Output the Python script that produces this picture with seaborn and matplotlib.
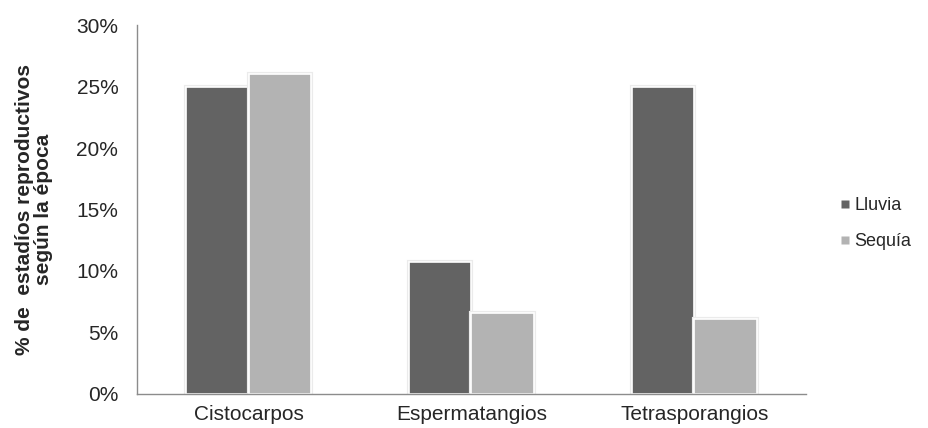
import matplotlib
matplotlib.use("Agg")
import matplotlib.pyplot as plt
import matplotlib.patheffects as pe
import seaborn as sns
import pandas as pd
from matplotlib.ticker import FuncFormatter, FixedLocator
from matplotlib.lines import Line2D

categories = ["Cistocarpos", "Espermatangios", "Tetrasporangios"]
series_names = ["Lluvia", "Sequía"]
lluvia = [25.0, 10.7, 25.0]
sequia = [26.0, 6.6, 6.1]
y_ticks = [0, 5, 10, 15, 20, 25, 30]

colors = {"Lluvia": "#636363", "Sequía": "#b3b3b3"}

df = pd.DataFrame({
    "categoria": categories * 2,
    "epoca": [series_names[0]] * 3 + [series_names[1]] * 3,
    "valor": lluvia + sequia,
})

sns.set_style("white")
plt.rcParams["font.family"] = ["Liberation Sans", "DejaVu Sans"]

fig = plt.figure(figsize=(9.29, 4.28), dpi=100)
ax = fig.add_axes([0.1475, 0.0795, 0.72, 0.862])

sns.barplot(data=df, x="categoria", y="valor", hue="epoca", order=categories,
            hue_order=series_names, palette=colors, width=0.56,
            edgecolor="white", linewidth=1.2, ax=ax, legend=False)

# soft halo around each bar
for bar in ax.patches:
    bar.set_path_effects([pe.withStroke(linewidth=3, foreground="#ebebeb")])

ax.set_ylim(0, 30)
ax.set_xlim(-0.5, 2.5)
ax.set_yticks(y_ticks)
ax.yaxis.set_major_formatter(FuncFormatter(lambda v, p: f"{v:.0f}%"))
ax.tick_params(axis="y", labelsize=15, length=4.5, color="#8c8c8c", width=1, pad=9)
ax.tick_params(axis="x", which="major", labelsize=15, length=0, pad=8)
ax.xaxis.set_minor_locator(FixedLocator([-0.5, 0.5, 1.5, 2.5]))
ax.tick_params(axis="x", which="minor", length=5, color="#8c8c8c", width=1)

for side in ["top", "right"]:
    ax.spines[side].set_visible(False)
for side in ["left", "bottom"]:
    ax.spines[side].set_color("#8c8c8c")
    ax.spines[side].set_linewidth(1)
    ax.spines[side].set_zorder(5)

ax.set_xlabel("")
ax.set_ylabel("% de  estadíos reproductivos\nsegún la época", fontsize=15,
              fontweight="bold", labelpad=17, linespacing=1.0)

handles = [Line2D([0], [0], marker="s", color="none", markerfacecolor=colors[n],
                  markeredgecolor="none", markersize=6) for n in series_names]
fig.legend(handles, series_names, loc="center left", bbox_to_anchor=(0.905, 0.478),
           frameon=False, fontsize=13, handlelength=0.5, handletextpad=0.25,
           labelspacing=1.05, borderaxespad=0, borderpad=0)

fig.savefig("out.png", dpi=100)
